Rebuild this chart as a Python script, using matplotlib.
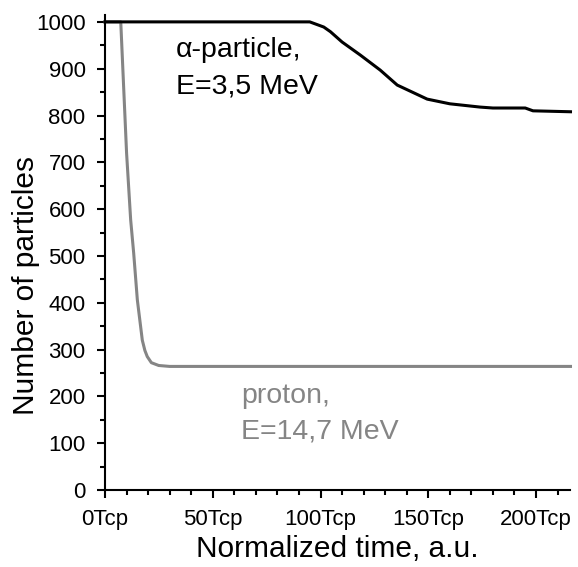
import matplotlib.pyplot as plt
from matplotlib.ticker import MultipleLocator, FuncFormatter

plt.rcParams['font.family'] = ['Liberation Sans', 'DejaVu Sans']

# alpha-particle, E=3,5 MeV
t_alpha = [0, 95, 101.5, 104.6, 110, 118.5, 127.7, 135.6, 149.5, 160, 174, 180, 195, 198.6, 216]
n_alpha = [1000, 1000, 989, 979, 957, 929, 897, 865, 835, 825, 818, 816, 816, 810, 808]

# proton, E=14,7 MeV
t_proton = [0, 7.3, 10, 11.9, 13.3, 15, 17.3, 18.5, 19.6, 21.5, 24.9, 30, 216]
n_proton = [1000, 1000, 720, 577, 506, 406, 320, 298, 285, 272, 266, 264, 264]

x_ticks = [0, 50, 100, 150, 200]
y_ticks = [0, 100, 200, 300, 400, 500, 600, 700, 800, 900, 1000]


def main():
    fig = plt.figure(figsize=(5.78, 5.67), dpi=100)
    ax = fig.add_axes([0.1817, 0.1358, 0.8053, 0.838])

    ax.plot(t_alpha, n_alpha, color='black', lw=2.2, clip_on=False, zorder=3)
    ax.plot(t_proton, n_proton, color='#858585', lw=2.2, clip_on=False, zorder=2)

    ax.set_xlim(0, 216)
    ax.set_ylim(0, 1015)
    ax.set_xticks(x_ticks)
    ax.set_yticks(y_ticks)
    ax.xaxis.set_minor_locator(MultipleLocator(10))
    ax.yaxis.set_minor_locator(MultipleLocator(50))
    ax.xaxis.set_major_formatter(FuncFormatter(lambda v, p: f"{int(v)}Tcp"))

    for s in ['top', 'right']:
        ax.spines[s].set_visible(False)
    for s in ['left', 'bottom']:
        ax.spines[s].set_linewidth(1.5)

    ax.tick_params(which='major', direction='out', length=6, width=1.5, labelsize=16, pad=8)
    ax.tick_params(which='minor', direction='out', length=3.5, width=1.5)

    ax.set_xlabel("Normalized time, a.u.", fontsize=21.5, labelpad=3)
    ax.set_ylabel("Number of particles", fontsize=21.5)
    # label sits a bit lower than the axis centre in the original
    ax.yaxis.set_label_coords(-0.139, 0.43)

    ax.text(32.8, 926, "α-particle,", fontsize=20.5, color='black', va='baseline')
    ax.text(32.8, 848, "E=3,5 MeV", fontsize=20.5, color='black', va='baseline')
    ax.text(63.2, 186, "proton,", fontsize=20.5, color='#858585', va='baseline')
    ax.text(63.2, 111, "E=14,7 MeV", fontsize=20.5, color='#858585', va='baseline')

    fig.savefig("out.png", dpi=100)


if __name__ == "__main__":
    main()
